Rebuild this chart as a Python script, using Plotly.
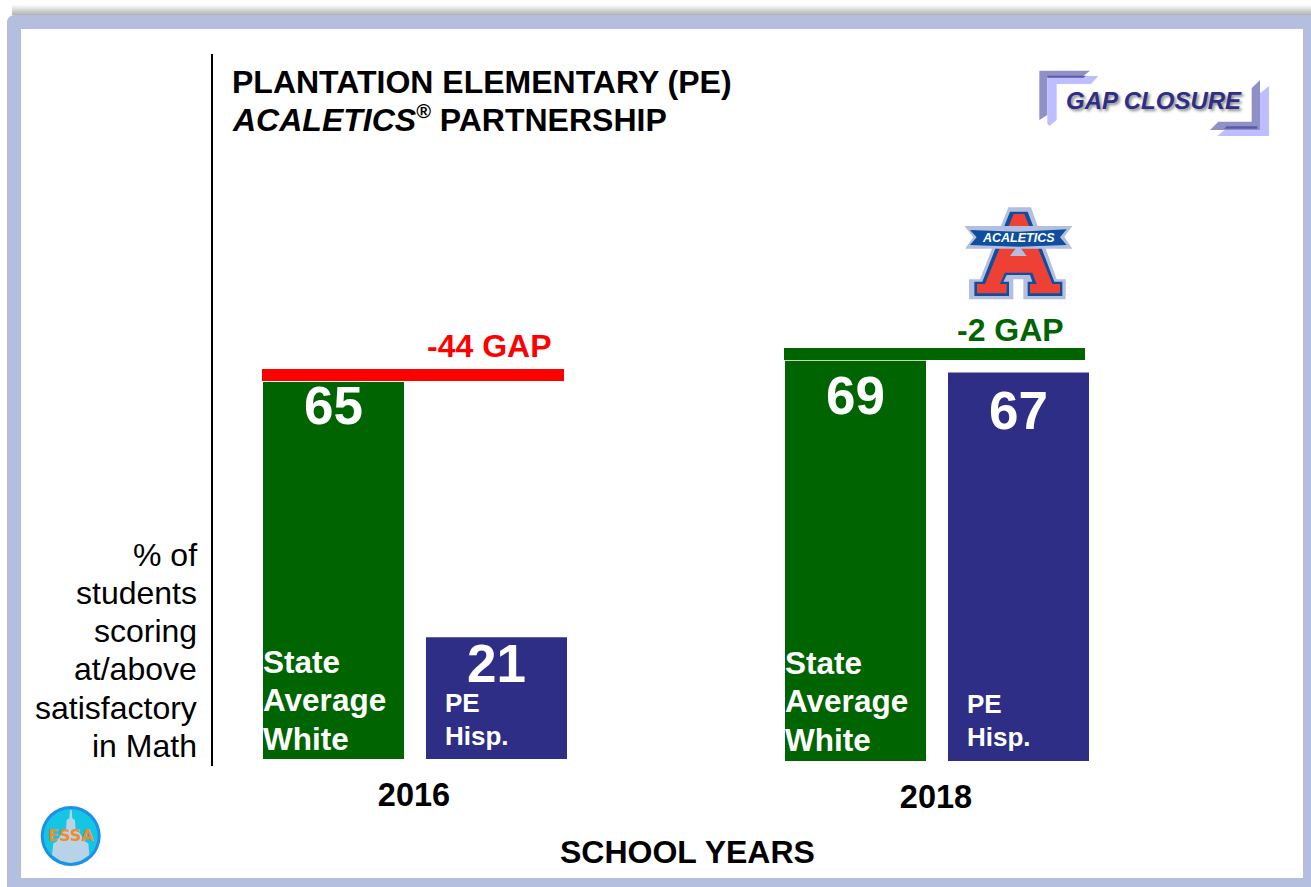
import plotly.graph_objects as go

# --- chart data ---
years = ["2016", "2018"]
state_white = [65, 69]
pe_hisp = [21, 67]
series_names = ["State Average White", "PE Hisp."]
gap_labels = ["-44 GAP", "-2 GAP"]
y_title_lines = ["% of", "students", "scoring", "at/above", "satisfactory", "in Math"]

W, H = 1311, 887
GREEN, NAVY, FRAME = "#006400", "#2e2e87", "#b4bfe0"
FONT = "Liberation Sans"


def fx(p):
    return p / W


def fy(p):
    return 1 - p / H


def poly(points, fill, line=None, width=0, opacity=1.0, ox=0, oy=0, scale=1.0, layer="above"):
    d = "M" + " L".join(f"{fx(ox + x * scale):.5f},{fy(oy + y * scale):.5f}" for x, y in points) + " Z"
    return dict(type="path", xref="paper", yref="paper", path=d, fillcolor=fill, opacity=opacity,
                line=dict(color=line or fill, width=width), layer=layer)


def rect(x0, y0, x1, y1, fill, opacity=1.0, layer="below"):
    return dict(type="rect", xref="paper", yref="paper", x0=fx(x0), x1=fx(x1), y0=fy(y0), y1=fy(y1),
                fillcolor=fill, opacity=opacity, line=dict(width=0), layer=layer)


def circle(cx, cy, r, fill):
    return dict(type="circle", xref="paper", yref="paper", x0=fx(cx - r), x1=fx(cx + r),
                y0=fy(cy + r), y1=fy(cy - r), fillcolor=fill, line=dict(width=0), layer="above")


def label(x, y, text, size, color="#000000", bold=True, anchor="left", family=FONT, shadow=None):
    f = dict(family=family, size=size, color=color, weight=700 if bold else 400)
    if shadow:
        f["shadow"] = shadow
    return dict(xref="paper", yref="paper", x=fx(x), y=fy(y), text=text, showarrow=False, borderpad=0,
                borderwidth=0, xanchor=anchor, yanchor="middle", font=f, align=anchor)


fig = go.Figure()
anns = []

# bars: each school year sits on its own small x/y axis pair
SLOT = 81.5
drops = {(0, 0): 23, (0, 1): 26, (1, 0): 35, (1, 1): 38}
for i, year in enumerate(years):
    sfx = "" if i == 0 else "2"
    for j, (vals, color) in enumerate(((state_white, GREEN), (pe_hisp, NAVY))):
        fig.add_trace(go.Bar(
            x=[year], y=[vals[i]], marker=dict(color=color, line=dict(width=0)),
            xaxis="x" + sfx, yaxis="y" + sfx, showlegend=False, hoverinfo="skip",
        ))
        # x=0 is the index of the single category on this year's own axis
        anns.append(dict(
            xref="x" + sfx, yref="y" + sfx, x=0, y=vals[i], text=str(vals[i]), showarrow=False,
            xshift=(j * 2 - 1) * SLOT, yshift=-drops[(i, j)], xanchor="center", yanchor="middle",
            font=dict(family=FONT, size=53, color="white", weight=700),
        ))

tick = dict(type="category", range=[-0.5, 0.5], autorange=False, automargin=False,
            showgrid=False, zeroline=False, showline=False, ticks="outside", ticklen=7,
            tickcolor="rgba(0,0,0,0)", ticklabelshift=-1,
            tickfont=dict(family=FONT, size=32.5, color="#000", weight=700))
yax = dict(range=[0, 100], autorange=False, visible=False, fixedrange=True)

shapes = []
# frame
for k in range(10):
    shapes.append(rect(12, 5 + k, W, 6 + k, "#808080", opacity=0.05 + 0.06 * k))
r = 8
shapes.append(dict(type="path", xref="paper", yref="paper", layer="below", line=dict(width=0), fillcolor=FRAME,
                   path=f"M{fx(7)},{fy(H)} L{fx(7)},{fy(15 + r)} Q{fx(7)},{fy(15)} {fx(7 + r)},{fy(15)} "
                        f"L{fx(W)},{fy(15)} L{fx(W)},{fy(H)} Z"))
shapes.append(rect(21, 29, 1303, 878, "#ffffff"))
# vertical rule
shapes.append(rect(211, 54, 213, 766, "#000000"))
# gap bars
shapes.append(rect(262, 369, 564, 381, "#ff0000", layer="above"))
shapes.append(rect(784, 348, 1085, 360, GREEN, layer="above"))

# GAP CLOSURE logo
g = dict(ox=1030, oy=60, scale=1 / 3)
shapes += [
    poly([(28, 32), (180, 32), (155, 52), (52, 52), (52, 165), (28, 180)], "#8f90c6", **g),
    poly([(52, 48), (205, 48), (183, 72), (80, 72), (80, 180), (58, 198), (52, 190)], "#bdbdff", **g),
    poly([(52, 47), (168, 47), (160, 53), (52, 53)], "#5a5aa8", **g),
    poly([(717, 78), (717, 228), (562, 228), (590, 205), (690, 205), (690, 100)], "#bdbdff", **g),
    poly([(690, 60), (690, 210), (540, 210), (565, 185), (665, 185), (665, 85)], "#8f90c6", **g),
    poly([(590, 199), (682, 199), (682, 206), (582, 206)], "#5a5aa8", **g),
]

# ACALETICS logo
a = dict(ox=955, oy=200, scale=1 / 3)
shapes += [
    poly([(160, 22), (228, 22), (305, 238), (332, 238), (332, 298), (205, 298), (205, 238), (175, 238),
          (175, 298), (42, 298), (42, 238), (75, 238)], "#b4bfe0", **a),
    poly([(165, 35), (218, 35), (298, 245), (322, 245), (322, 288), (218, 288), (218, 245), (232, 245),
          (225, 225), (155, 225), (145, 245), (162, 245), (162, 288), (58, 288), (58, 245), (82, 245)],
         "#0d4f9e", **a),
    poly([(176, 42), (208, 42), (292, 252), (315, 252), (315, 280), (225, 280), (225, 252), (245, 252),
          (232, 218), (150, 218), (135, 252), (155, 252), (155, 280), (66, 280), (66, 252), (90, 252)],
         "#ee4035", **a),
    poly([(165, 168), (215, 168), (190, 135)], "#b4bfe0", **a),
    poly([(28, 78), (352, 78), (328, 110), (352, 146), (30, 146), (55, 112)], "#b4bfe0", **a),
    poly([(45, 90), (190, 95), (335, 88), (315, 112), (335, 135), (190, 140), (45, 135), (65, 112)],
         "#0d4f9e", **a),
]

# ESSA logo
e = dict(ox=30, oy=800, scale=1 / 3)
shapes += [
    circle(70.7, 836, 30, "#1e90e8"),
    circle(70.7, 836, 27, "#12c6e4"),
    poly([(120, 30), (125, 30), (127, 55), (135, 60), (137, 90), (150, 100), (165, 125), (175, 130), (178, 165),
          (152, 182), (122, 189), (92, 182), (66, 165), (70, 130), (80, 125), (95, 100), (108, 90), (110, 60),
          (118, 55)], "#b8d3e8", **e),
]

anns += [
    label(232, 82, "PLANTATION ELEMENTARY (PE)", 32),
    label(232, 118.5, "<i>ACALETICS</i><sup><span style=\"font-size:20px\"><i>®</i></span></sup> PARTNERSHIP", 32),
    label(551, 346, gap_labels[0], 32, "#ff0000", anchor="right"),
    label(1064, 330, gap_labels[1], 32, GREEN, anchor="right"),
    label(687, 852, "SCHOOL YEARS", 32, anchor="center"),
    label(1153.5, 100, "<i>GAP CLOSURE</i>", 24, NAVY, anchor="center", shadow="2px 2px 3px #8a8a8a"),
    label(1018, 238, "<i>ACALETICS</i>", 12.5, "#ffffff", anchor="center"),
    label(71, 835, "ESSA", 16, "#f58a2a", anchor="center", family="DejaVu Sans"),
]
for i, line in enumerate(y_title_lines):
    anns.append(label(197, 554.5 + i * 38.3, line, 32, bold=False, anchor="right"))
state_lines = series_names[0].replace("State ", "State|").replace("Average ", "Average|").split("|")
for left, top in ((263, 662), (785, 663)):
    for i, line in enumerate(state_lines):
        anns.append(label(left, top + i * 38.3, line, 31.5, "#ffffff"))
pe_lines = series_names[1].split(" ")
for left, top in ((445, 703), (967, 704)):
    for i, line in enumerate(pe_lines):
        anns.append(label(left, top + i * 32.5, line, 26, "#ffffff"))

fig.update_layout(
    width=W, height=H, margin=dict(l=0, r=0, t=0, b=0), autosize=False,
    paper_bgcolor="white", plot_bgcolor="rgba(0,0,0,0)",
    barmode="group", bargap=0, bargroupgap=22 / 163,
    xaxis=dict(domain=[fx(252), fx(578)], anchor="y", **tick),
    xaxis2=dict(domain=[fx(774), fx(1100)], anchor="y2", **tick),
    yaxis=dict(domain=[fy(759), fy(179)], anchor="x", **yax),
    yaxis2=dict(domain=[fy(761), fy(181)], anchor="x2", **yax),
    shapes=shapes, annotations=anns,
)
fig.write_html("out.html", config=dict(displayModeBar=False),
               post_script="document.body.style.margin='0';")
